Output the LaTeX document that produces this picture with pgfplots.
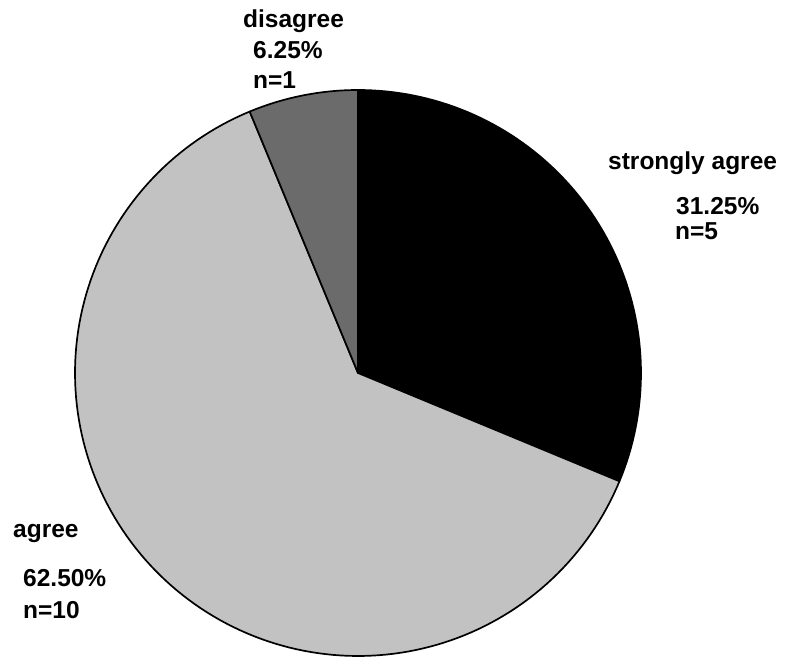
\documentclass[border=0pt]{standalone}
\usepackage{fontspec}
\setmainfont{Liberation Sans}
\usepackage{pgfplots}
\pgfplotsset{compat=1.18}
\definecolor{agreegray}{gray}{0.76}
\definecolor{disgray}{gray}{0.42}
\begin{document}
\begin{tikzpicture}
\useasboundingbox (0,0) rectangle (789bp,658bp);
% counts: strongly agree 5, agree 10, disagree 1 (total 16)
% angles (clockwise from 90 deg): 5/16*360=112.5, 10/16*360=225, 1/16*360=22.5
\begin{axis}[
  at={(0,0)}, anchor=south west,
  scale only axis, width=789bp, height=658bp,
  xmin=0, xmax=789, ymin=0, ymax=658,
  hide axis, clip=false,
]
% strongly agree: 90 -> -22.5
\addplot[draw=black, line width=1.7pt, line join=round, fill=black, domain=90:-22.5, samples=80]
  ({358+283*cos(x)},{285+283*sin(x)}) -- (axis cs:358,285) -- cycle;
% agree: -22.5 -> -247.5
\addplot[draw=black, line width=1.7pt, line join=round, fill=agreegray, domain=-22.5:-247.5, samples=150]
  ({358+283*cos(x)},{285+283*sin(x)}) -- (axis cs:358,285) -- cycle;
% disagree: 112.5 -> 90
\addplot[draw=black, line width=1.7pt, line join=round, fill=disgray, domain=112.5:90, samples=30]
  ({358+283*cos(x)},{285+283*sin(x)}) -- (axis cs:358,285) -- cycle;

\begin{scope}[every node/.style={anchor=base west, inner sep=0pt, font=\fontsize{24.5bp}{29bp}\selectfont\bfseries}]
\node at (axis cs:243,630) {disagree};
\node at (axis cs:253,599) {6.25\%};
\node at (axis cs:253,569) {n=1};
\node at (axis cs:608,488) {strongly agree};
\node at (axis cs:676,443) {31.25\%};
\node at (axis cs:675,418) {n=5};
\node at (axis cs:13,120) {agree};
\node at (axis cs:23,71) {62.50\%};
\node at (axis cs:23,39) {n=10};
\end{scope}
\end{axis}
\end{tikzpicture}
\end{document}
